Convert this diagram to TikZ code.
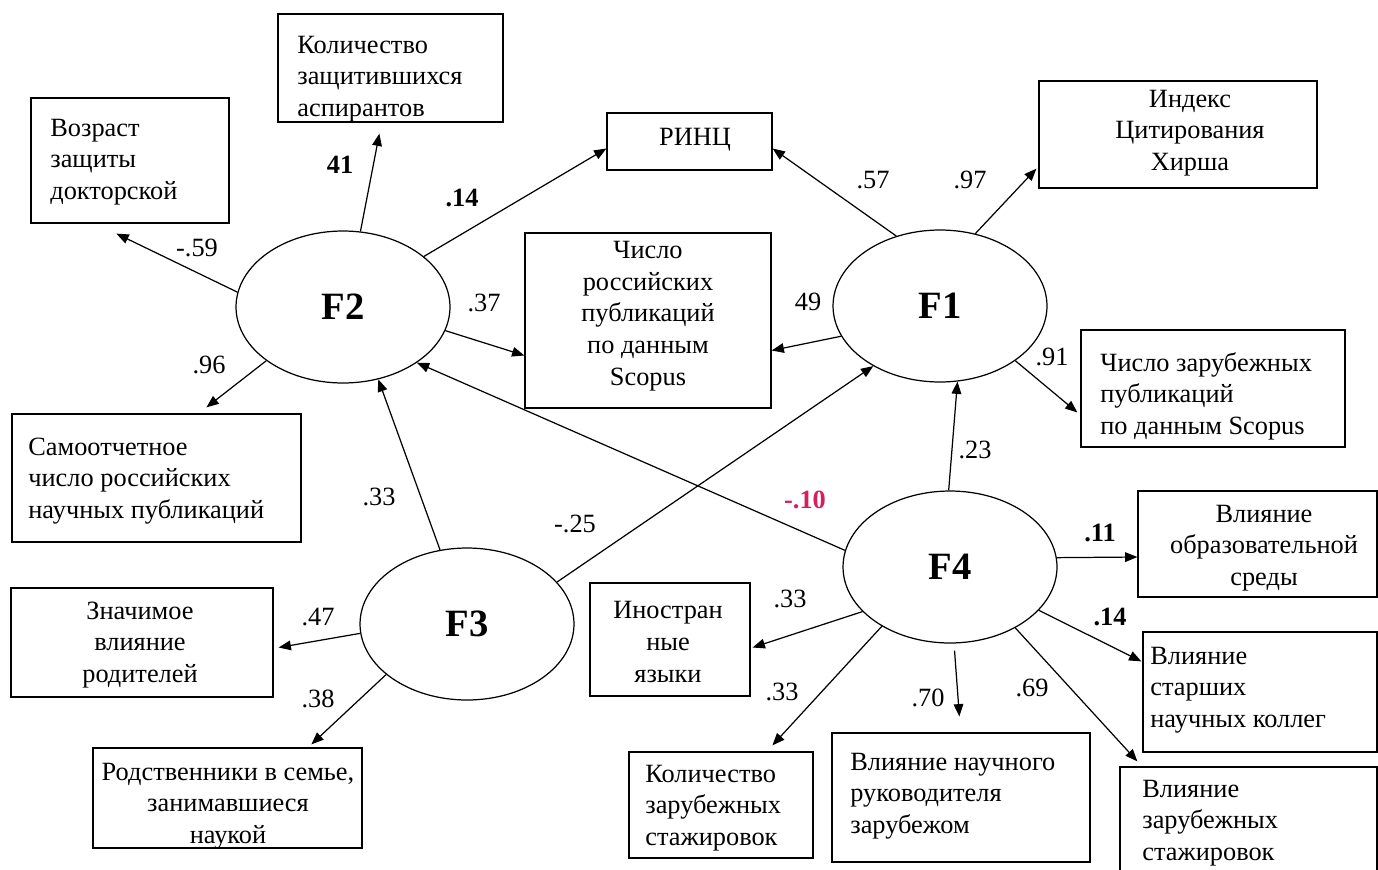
\documentclass[tikz,border=0pt]{standalone}
\usepackage{fontspec}
\setmainfont{Liberation Serif}
\usetikzlibrary{shapes.geometric,fit,calc,arrows.meta}
\definecolor{crim}{RGB}{215,30,90}
\begin{document}
\begin{tikzpicture}[x=0.02cm,y=-0.02cm,
 box/.style={draw, line width=0.7pt, inner sep=0pt},
 txt/.style={font=\fontsize{15}{18}\selectfont, inner sep=0pt},
 lat/.style={draw, ellipse, line width=0.7pt, minimum width=4.28cm, minimum height=3.04cm, inner sep=0pt, font=\bfseries\fontsize{22}{26}\selectfont},
 arr/.style={line width=0.7pt, -{Triangle[length=7pt,width=5.5pt]}},
 lab/.style={font=\fontsize{15}{18}\selectfont, inner sep=0pt},
 blab/.style={inner sep=0pt, font=\bfseries\fontsize{15}{18}\selectfont}]
\useasboundingbox (0,0) rectangle (1378,869);
\clip (0,0) rectangle (1378,869);

% boxes
\node[box, fit={(31,98) (229,223)}] (b1) {};
\node[box, fit={(278,14) (503,122)}] (b2) {};
\node[box, fit={(607,113) (772,170)}] (b3) {};
\node[box, fit={(525,233) (771,408)}] (b4) {};
\node[box, fit={(1039,81) (1317,188)}] (b5) {};
\node[box, fit={(1081,330) (1345,447)}] (b6) {};
\node[box, fit={(12,414) (301,542)}] (b7) {};
\node[box, fit={(11,588) (273,697)}] (b8) {};
\node[box, fit={(93,748) (362,848)}] (b9) {};
\node[box, fit={(590,583) (750,696)}] (b10) {};
\node[box, fit={(629,752) (813,858)}] (b11) {};
\node[box, fit={(832,733) (1090,862)}] (b12) {};
\node[box, fit={(1138,491) (1377,597)}] (b13) {};
\node[box, fit={(1143,632) (1377,752)}] (b14) {};
\node[box, fit={(1120,767) (1377,885)}] (b15) {};

% box texts
\node[txt, anchor=west, align=left] (t1) at (50,162) {Возраст\\защиты\\докторской};
\node[txt, anchor=west, align=left] (t2) at (297,79) {Количество\\защитившихся\\аспирантов};
\node[txt] (t3) at (695,140) {РИНЦ};
\node[txt, align=center] (t4) at (648,316) {Число\\российских\\публикаций\\по данным\\Scopus};
\node[txt, align=center] (t5) at (1190,133) {Индекс\\Цитирования\\Хирша};
\node[txt, anchor=west, align=left] (t6) at (1100,396) {Число зарубежных\\публикаций\\по данным Scopus};
\node[txt, anchor=west, align=left] (t7) at (28,481) {Самоотчетное\\число российских\\научных публикаций};
\node[txt, align=center] (t8) at (140,645) {Значимое\\влияние\\родителей};
\node[txt, align=center] (t9) at (228,806) {Родственники в семье,\\занимавшиеся\\наукой};
\node[txt, align=center] (t10) at (668,642) {Иностран\\ные\\языки};
\node[txt, anchor=west, align=left] (t11) at (645,808) {Количество\\зарубежных\\стажировок};
\node[txt, anchor=west, align=left] (t12) at (850,796) {Влияние научного\\руководителя\\зарубежом};
\node[txt, align=center] (t13) at (1264,548) {Влияние\\образовательной\\среды};
\node[txt, anchor=west, align=left] (t14) at (1150,690) {Влияние\\старших\\научных коллег};
\node[txt, anchor=west, align=left] (t15) at (1142,823) {Влияние\\зарубежных\\стажировок};

% latent factors
\node[lat] (F1) at (940,306) {F1};
\node[lat] (F2) at (343,307) {F2};
\node[lat] (F3) at (467,624) {F3};
\node[lat] (F4) at (950,567) {F4};

% connectors
\draw[arr] (F2.172) -- ($(b1.south west)+(86,10)$);
\draw[arr] (F2.77) -- ($(b2.south west)+(102,11)$);
\draw[arr] (F2.32) -- ($(b3.west)+(0,7)$);
\draw[arr] (F2.-13) -- ($(b4.west)+(0,35)$);
\draw[arr] (F2.215) -- ($(b7.north west)+(195,-6)$);
\draw[arr] (F3.110) -- (F2.-64);
\draw[arr] (F4.171) -- (F2.-37);
\draw[arr] (F3.25) -- (F1.222);
\draw[arr] (F4.91) -- (F1.283);
\draw[arr] (F1.122) -- ($(b3.east)+(0,7)$);
\draw[arr] (F1.197) -- ($(b4.east)+(0,30)$);
\draw[arr] (F1.64) -- ($(b5.south west)+(-2,-20)$);
\draw[arr] (F1.-36) -- ($(b6.west)+(-3,24)$);
\draw[arr] (F3.185) -- ($(b8.east)+(5,5)$);
\draw[arr] (F3.212) -- ($(b9.north west)+(219,-3)$);
\draw[arr] (F4.207) -- ($(b10.east)+(2,8)$);
\draw[arr] (F4.221) -- ($(b11.north west)+(144,-6)$);
\draw[arr, shorten <=4pt] (F4.273) -- ($(b12.north west)+(128,-16)$);
\draw[arr] (F4.-43) -- ($(b15.north west)+(18,-5)$);
\draw[arr] (F4.-26) -- ($(b14.north west)+(-1,30)$);
\draw[arr] (F4.5) -- ($(b13.west)+(0,13)$);

% coefficients
\node[lab] (l1) at (197,248) {-.59};
\node[blab] (l2) at (340,165) {41};
\node[blab] (l3) at (462,198) {.14};
\node[lab] (l4) at (484,303) {.37};
\node[lab] (l5) at (209,365) {.96};
\node[lab] (l6) at (379,497) {.33};
\node[lab] (l7) at (873,180) {.57};
\node[lab] (l8) at (808,302) {49};
\node[lab] (l9) at (970,180) {.97};
\node[lab] (l10) at (1052,357) {.91};
\node[lab] (l11) at (975,450) {.23};
\node[blab, text=crim] (l12) at (805,500) {-.10};
\node[lab] (l13) at (575,524) {-.25};
\node[lab] (l14) at (318,617) {.47};
\node[lab] (l15) at (318,699) {.38};
\node[lab] (l16) at (790,599) {.33};
\node[lab] (l17) at (782,692) {.33};
\node[lab] (l18) at (928,698) {.70};
\node[lab] (l19) at (1032,688) {.69};
\node[blab] (l20) at (1100,533) {.11};
\node[blab] (l21) at (1110,617) {.14};
\end{tikzpicture}
\end{document}
